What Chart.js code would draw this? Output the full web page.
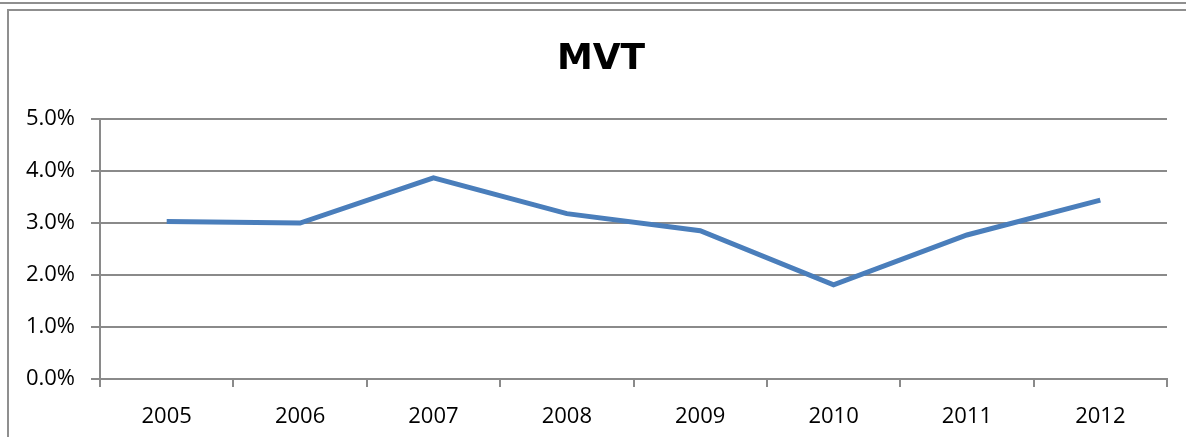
<!DOCTYPE html>
<html>
<head>
<meta charset="utf-8">
<script src="https://cdn.jsdelivr.net/npm/chart.js@4/dist/chart.umd.min.js"></script>
<style>
  html, body { margin: 0; padding: 0; background: #fff; }
  #wrap { position: relative; width: 1186px; height: 437px; }
</style>
</head>
<body>
<div id="wrap"><canvas id="mvtChart" width="1186" height="437"></canvas></div>
<script>
/* ================= DATA ================= */
const years = ["2005", "2006", "2007", "2008", "2009", "2010", "2011", "2012"];
const mvtValues = [3.03, 3.00, 3.87, 3.18, 2.85, 1.81, 2.77, 3.44];
const chartTitle = "MVT";

/* ================= STYLE ================= */
const GRID = "#8a8a8a";
const LINE = "#4a7ebb";

// outer frame lines + title (title sits right of the plot centre in the reference)
const framePlugin = {
    id: "frame",
    beforeDraw(chart) {
        const ctx = chart.ctx;
        ctx.save();
        ctx.strokeStyle = "#8f8f8f";
        ctx.lineWidth = 2;
        ctx.beginPath();
        ctx.moveTo(0, 3); ctx.lineTo(chart.width, 3);
        ctx.moveTo(7, 10); ctx.lineTo(chart.width, 10);
        ctx.moveTo(8, 10); ctx.lineTo(8, chart.height);
        ctx.stroke();

        ctx.fillStyle = "#000";
        ctx.font = "bold 36px 'DejaVu Sans'";
        ctx.textAlign = "center";
        ctx.textBaseline = "alphabetic";
        ctx.fillText(chartTitle, 601, 69);
        ctx.restore();
    }
};

new Chart(document.getElementById("mvtChart"), {
    type: "line",
    data: {
        labels: years,
        datasets: [{
            label: chartTitle,
            data: mvtValues,
            borderColor: LINE,
            borderWidth: 5,
            pointRadius: 0,
            tension: 0,
            fill: false
        }]
    },
    options: {
        responsive: false,
        animation: false,
        layout: { padding: { left: 0, right: 19, top: 119, bottom: 0 } },
        plugins: {
            legend: { display: false },
            tooltip: { enabled: false },
            title: { display: false }
        },
        scales: {
            x: {
                offset: true,
                grid: {
                    offset: true,
                    drawOnChartArea: false,
                    color: GRID,
                    lineWidth: 2,
                    tickLength: 8
                },
                border: { color: GRID, width: 2 },
                ticks: {
                    color: "#000",
                    padding: 17,
                    maxRotation: 0,
                    font: { family: "Open Sans", size: 22 }
                },
                afterFit(scale) { scale.height = 58; }
            },
            y: {
                min: 0,
                max: 5,
                grid: { color: GRID, lineWidth: 2, tickLength: 9 },
                border: { color: GRID, width: 2 },
                ticks: {
                    stepSize: 1,
                    color: "#000",
                    padding: 16,
                    font: { family: "Open Sans", size: 22 },
                    callback: v => v.toFixed(1) + "%"
                },
                afterFit(scale) { scale.width = 100; }
            }
        }
    },
    plugins: [framePlugin]
});
</script>
</body>
</html>
